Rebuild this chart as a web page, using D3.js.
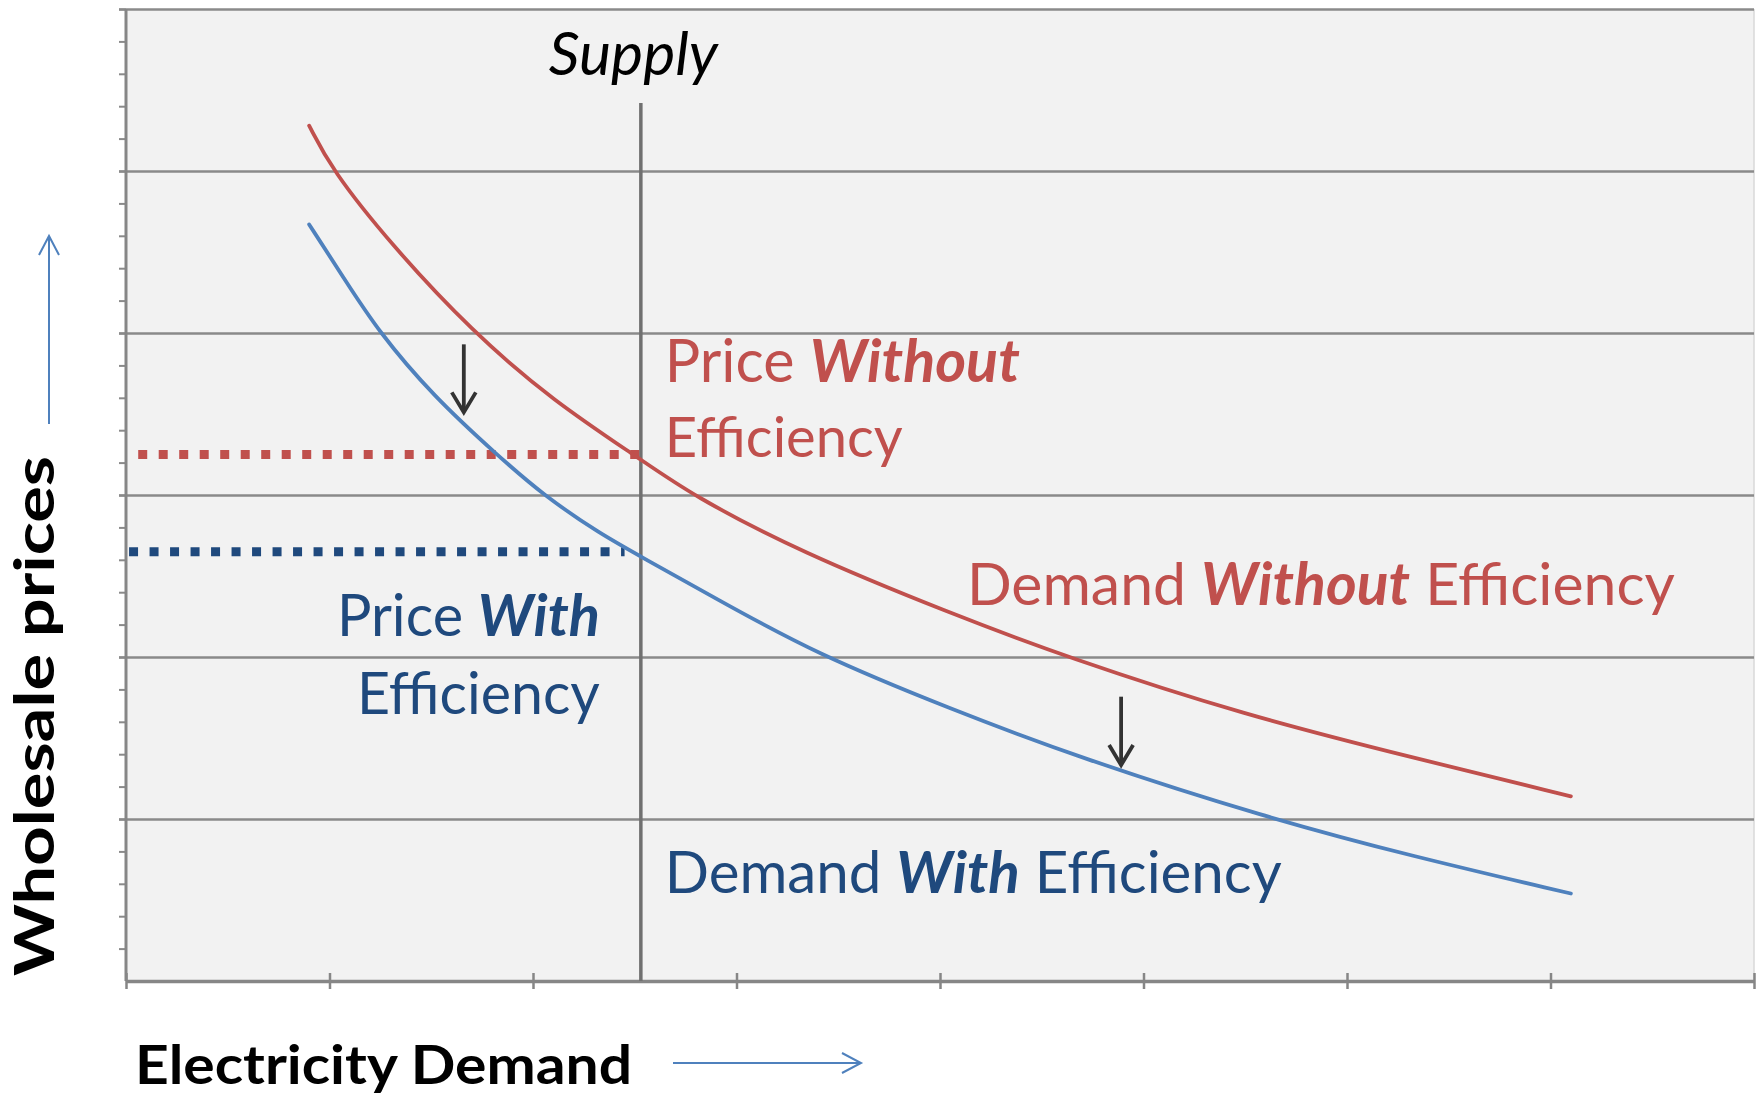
<!DOCTYPE html>
<html>
<head>
<meta charset="utf-8">
<script src="https://cdn.jsdelivr.net/npm/d3@7"></script>
<style>
  html, body { margin: 0; padding: 0; background: #ffffff; }
  svg { display: block; }
</style>
</head>
<body>
<svg id="chart" width="1759" height="1095"></svg>
<script>
// ---------------- DATA ----------------
// Demand curve without efficiency (x = electricity demand, y = wholesale price)
const withoutX = [0.90, 1.01, 1.30, 1.70, 2.10, 2.53, 2.78, 3.31, 4.05, 4.62, 5.50, 6.32, 7.10];
const withoutY = [5.28, 5.01, 4.55, 4.01, 3.58, 3.22, 3.00, 2.65, 2.27, 2.00, 1.64, 1.38, 1.14];
// Demand curve with efficiency
const withX = [0.90, 1.07, 1.24, 1.51, 1.83, 2.05, 2.33, 2.53, 2.90, 3.39, 4.05, 4.68, 5.60, 6.32, 7.10];
const withY = [4.67, 4.34, 4.01, 3.61, 3.24, 3.00, 2.76, 2.62, 2.36, 2.02, 1.68, 1.38, 1.01, 0.77, 0.54];
// Supply (vertical line)
const supplyX = [2.53, 2.53];
const supplyY = [0, 5.42];
// Price levels (dotted)
const priceWithoutX = [0.06, 2.53];
const priceWithoutY = [3.25, 3.25];
const priceWithX = [0.015, 2.45];
const priceWithY = [2.65, 2.65];
// Downward shift arrows
const arrowX = [1.66, 4.89];
const arrowFromY = [3.93, 1.755];
const arrowToY = [3.51, 1.333];
// Axes ticks
const xTicks = [0, 1, 2, 3, 4, 5, 6, 7, 8];
const yGridTicks = [1, 2, 3, 4, 5, 6];
const yMinorTicks = [0.2,0.4,0.6,0.8,1,1.2,1.4,1.6,1.8,2,2.2,2.4,2.6,2.8,3,3.2,3.4,3.6,3.8,4,4.2,4.4,4.6,4.8,5,5.2,5.4,5.6,5.8,6];
// Text
const yTitle = "Wholesale prices";
const xTitle = "Electricity Demand";
const supplyLabel = "Supply";

// ---------------- STYLE ----------------
const RED = "#c0504d";
const BLUE_LINE = "#4f81bd";
const NAVY = "#1f497d";
const GRID = "#8a8a8a";
const FONT = "Lato, 'Open Sans', sans-serif";

const svg = d3.select("#chart");
const x = d3.scaleLinear().domain([0, 8]).range([126, 1754]);
const y = d3.scaleLinear().domain([0, 6]).range([981, 9]);

// plot background
svg.append("rect")
  .attr("x", x(0)).attr("y", y(6))
  .attr("width", x(8) - x(0)).attr("height", y(0) - y(6))
  .attr("fill", "#f2f2f2");
svg.append("line")
  .attr("x1", x(8)).attr("x2", x(8)).attr("y1", y(6)).attr("y2", y(0))
  .attr("stroke", "#d9d9d9").attr("stroke-width", 1.5);

// minor ticks on y axis
const gMinor = svg.append("g").attr("transform", `translate(${x(0)},0)`)
  .call(d3.axisLeft(y).tickValues(yMinorTicks).tickSize(7).tickFormat(""));
gMinor.select(".domain").remove();
gMinor.selectAll(".tick line").attr("stroke", GRID).attr("stroke-width", 2);

// horizontal gridlines
const gGrid = svg.append("g").attr("transform", `translate(${x(0)},0)`)
  .call(d3.axisLeft(y).tickValues(yGridTicks).tickSize(0).tickFormat(""));
gGrid.select(".domain").remove();
gGrid.selectAll(".tick line")
  .attr("x1", -7).attr("x2", x(8) - x(0))
  .attr("stroke", GRID).attr("stroke-width", 2.5);

// y axis line
svg.append("line")
  .attr("x1", x(0)).attr("x2", x(0)).attr("y1", y(6)).attr("y2", y(0))
  .attr("stroke", "#868686").attr("stroke-width", 3);

// x axis
const gx = svg.append("g").attr("transform", `translate(0,${y(0)})`)
  .call(d3.axisBottom(x).tickValues(xTicks).tickSize(8).tickSizeOuter(0).tickFormat(""));
gx.select(".domain").attr("stroke", "#868686").attr("stroke-width", 3.5);
gx.selectAll(".tick line").attr("y1", -8).attr("y2", 8)
  .attr("stroke", "#868686").attr("stroke-width", 2.5);

const line = d3.line().x(d => x(d[0])).y(d => y(d[1]));

// supply line
svg.append("path").datum(d3.zip(supplyX, supplyY))
  .attr("d", line).attr("fill", "none")
  .attr("stroke", "#707070").attr("stroke-width", 3.5);

// dotted price lines
svg.append("path").datum(d3.zip(priceWithoutX, priceWithoutY))
  .attr("d", line).attr("fill", "none")
  .attr("stroke", RED).attr("stroke-width", 9).attr("stroke-dasharray", "9 11.5");
svg.append("path").datum(d3.zip(priceWithX, priceWithY))
  .attr("d", line).attr("fill", "none")
  .attr("stroke", NAVY).attr("stroke-width", 9).attr("stroke-dasharray", "9 11.5");

// demand curves (smoothed through the read points)
const curve = d3.line().x(d => x(d[0])).y(d => y(d[1])).curve(d3.curveBasis);
svg.append("path").datum(d3.zip(withoutX, withoutY))
  .attr("d", curve).attr("fill", "none")
  .attr("stroke", RED).attr("stroke-width", 3.8).attr("stroke-linecap", "round");
svg.append("path").datum(d3.zip(withX, withY))
  .attr("d", curve).attr("fill", "none")
  .attr("stroke", BLUE_LINE).attr("stroke-width", 3.8).attr("stroke-linecap", "round");

// shift arrows
arrowX.forEach((ax, i) => {
  const px = x(ax), y0 = y(arrowFromY[i]), y1 = y(arrowToY[i]);
  svg.append("line").attr("x1", px).attr("x2", px).attr("y1", y0).attr("y2", y1 - 2)
    .attr("stroke", "#333").attr("stroke-width", 3.8);
  svg.append("path")
    .attr("d", `M${px - 12},${y1 - 20} L${px},${y1} L${px + 12},${y1 - 20}`)
    .attr("fill", "none").attr("stroke", "#333").attr("stroke-width", 3.8)
    .attr("stroke-linejoin", "miter");
});

// ---------------- TEXT ----------------
function fitWidth(sel, target) {
  const fs = parseFloat(sel.attr("font-size"));
  const w = sel.node().getComputedTextLength();
  if (w > 0) sel.attr("font-size", fs * target / w);
}
function label(px, py, parts, color, anchor, target) {
  const t = svg.append("text")
    .attr("x", px).attr("y", py)
    .attr("font-family", FONT).attr("font-size", 56)
    .attr("fill", color).attr("text-anchor", anchor);
  parts.forEach(p => {
    t.append("tspan").text(p.t)
      .attr("font-weight", p.b ? 700 : 400)
      .attr("font-style", p.b ? "italic" : "normal");
  });
  fitWidth(t, target);
  return t;
}

const sx = x(supplyX[0]);
// Supply
const sup = svg.append("text").attr("x", sx - 92).attr("y", 75)
  .attr("font-family", FONT).attr("font-size", 56).attr("font-style", "italic")
  .attr("fill", "#000").text(supplyLabel);
fitWidth(sup, 169);

label(sx + 24, 382, [{t: "Price "}, {t: "Without", b: true}], RED, "start", 355);
label(sx + 24, 457, [{t: "Efficiency"}], RED, "start", 238);
label(967, 605, [{t: "Demand "}, {t: "Without", b: true}, {t: " Efficiency"}], RED, "start", 708);
label(sx - 41, 636, [{t: "Price "}, {t: "With", b: true}], NAVY, "end", 263);
label(sx - 41, 714, [{t: "Efficiency"}], NAVY, "end", 243);
label(sx + 24, 893, [{t: "Demand "}, {t: "With", b: true}, {t: " Efficiency"}], NAVY, "start", 617);

// axis titles
svg.append("text")
  .attr("transform", `translate(${x(0) - 72},976) rotate(-90)`)
  .attr("font-family", FONT).attr("font-weight", 700).attr("font-size", 56)
  .attr("fill", "#000")
  .attr("textLength", 520).attr("lengthAdjust", "spacingAndGlyphs")
  .text(yTitle);
svg.append("text")
  .attr("x", 135).attr("y", 1084)
  .attr("font-family", FONT).attr("font-weight", 700).attr("font-size", 54)
  .attr("fill", "#000")
  .attr("textLength", 497).attr("lengthAdjust", "spacingAndGlyphs")
  .text(xTitle);

// axis direction arrows
const ayx = x(0) - 77;
svg.append("line").attr("x1", ayx).attr("x2", ayx).attr("y1", 424).attr("y2", 237)
  .attr("stroke", BLUE_LINE).attr("stroke-width", 2);
svg.append("path").attr("d", `M${ayx - 10},${255} L${ayx},${236} L${ayx + 10},${255}`)
  .attr("fill", "none").attr("stroke", BLUE_LINE).attr("stroke-width", 2);
const axy = 1063;
svg.append("line").attr("x1", 673).attr("x2", 860).attr("y1", axy).attr("y2", axy)
  .attr("stroke", BLUE_LINE).attr("stroke-width", 2);
svg.append("path").attr("d", `M842,${axy - 10} L861,${axy} L842,${axy + 10}`)
  .attr("fill", "none").attr("stroke", BLUE_LINE).attr("stroke-width", 2);
</script>
</body>
</html>
